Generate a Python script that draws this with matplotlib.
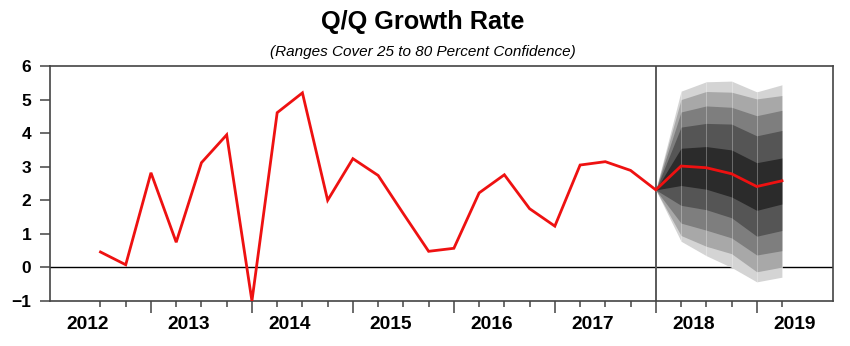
import matplotlib.pyplot as plt
import matplotlib.transforms as mtransforms
import numpy as np

plt.rcParams['font.family'] = ['Liberation Sans', 'DejaVu Sans']

# quarterly growth, 2012Q3 .. 2018Q1 (annualized %)
actual = [0.46, 0.08, 2.82, 0.75, 3.12, 3.95, -1.0, 4.61, 5.2, 2.0, 3.24, 2.74,
          1.6, 0.48, 0.57, 2.22, 2.76, 1.75, 1.23, 3.05, 3.15, 2.89, 2.31]
actual_start = 2012.5

# forecast median, 2018Q2 .. 2019Q2
forecast = [3.02, 2.97, 2.79, 2.41, 2.58]

# band edges, innermost (25%) to outermost (80%)
band_upper = [
    [3.55, 3.60, 3.50, 3.12, 3.26],
    [4.18, 4.29, 4.27, 3.92, 4.08],
    [4.63, 4.81, 4.77, 4.52, 4.68],
    [5.00, 5.24, 5.22, 5.02, 5.12],
    [5.25, 5.53, 5.55, 5.23, 5.44],
]
band_lower = [
    [2.44, 2.33, 2.10, 1.70, 1.89],
    [1.85, 1.72, 1.48, 0.93, 1.10],
    [1.32, 1.11, 0.88, 0.37, 0.50],
    [0.95, 0.63, 0.41, -0.13, 0.01],
    [0.78, 0.35, 0.00, -0.43, -0.29],
]
band_colors = ['#2b2b2b', '#555555', '#7e7e7e', '#a8a8a8', '#d4d4d4']

years = [2012, 2013, 2014, 2015, 2016, 2017, 2018, 2019]

fig = plt.figure(figsize=(8.5, 3.46), dpi=100)
ax = fig.add_axes([50 / 850, 1 - 301 / 346, 783 / 850, 235 / 346])

x_act = actual_start + np.arange(len(actual)) / 4
x_fc = x_act[-1] + np.arange(len(forecast) + 1) / 4
anchor = actual[-1]

# fan: outermost first so inner bands sit on top
for up, lo, col in reversed(list(zip(band_upper, band_lower, band_colors))):
    ax.fill_between(x_fc, [anchor] + up, [anchor] + lo, color=col, lw=0, zorder=2)
ax.vlines(x_fc[1:], band_lower[-1], band_upper[-1], color='white', lw=0.7,
          alpha=0.3, zorder=3)

ax.axhline(0, color='black', lw=1.0, zorder=1)
ax.axvline(x_act[-1], color='#5a5a5a', lw=1.4, zorder=1)

ax.plot(np.concatenate([x_act, x_fc[1:]]), actual + forecast, color='#ee1111',
        lw=2.0, zorder=4, solid_joinstyle='miter')

ax.set_xlim(2012.0, 2019.755)
ax.set_ylim(-1, 6)
ax.set_yticks(range(-1, 7))
for lab in ax.get_yticklabels():
    lab.set_fontweight('bold')

all_q = np.concatenate([x_act, x_fc[1:]])
ax.set_xticks([q for q in all_q if q == int(q)])
ax.set_xticks([q for q in all_q if q != int(q)], minor=True)
ax.set_xticklabels([])
ax.tick_params(axis='x', which='major', direction='out', length=8.5, width=1.1,
               color='#444444')
ax.tick_params(axis='x', which='minor', direction='out', length=4.3, width=1.1,
               color='#444444')
ax.tick_params(axis='y', direction='out', length=7.5, width=1.1, color='#444444',
               labelsize=12.5, pad=6)

trans = mtransforms.blended_transform_factory(ax.transData, ax.transAxes)
for yr in years:
    ax.text(yr + 0.375, -0.098, str(yr), transform=trans, ha='center', va='center',
            fontsize=13.8, fontweight='bold')

for sp in ax.spines.values():
    sp.set_color('#444444')
    sp.set_linewidth(1.2)

fig.text(0.497, 0.935, 'Q/Q Growth Rate', ha='center', va='center',
         fontsize=18.2, fontweight='bold')
fig.text(0.4975, 0.85, '(Ranges Cover 25 to 80 Percent Confidence)', ha='center',
         va='center', fontsize=11, style='italic')

fig.savefig('out.png', dpi=100)
